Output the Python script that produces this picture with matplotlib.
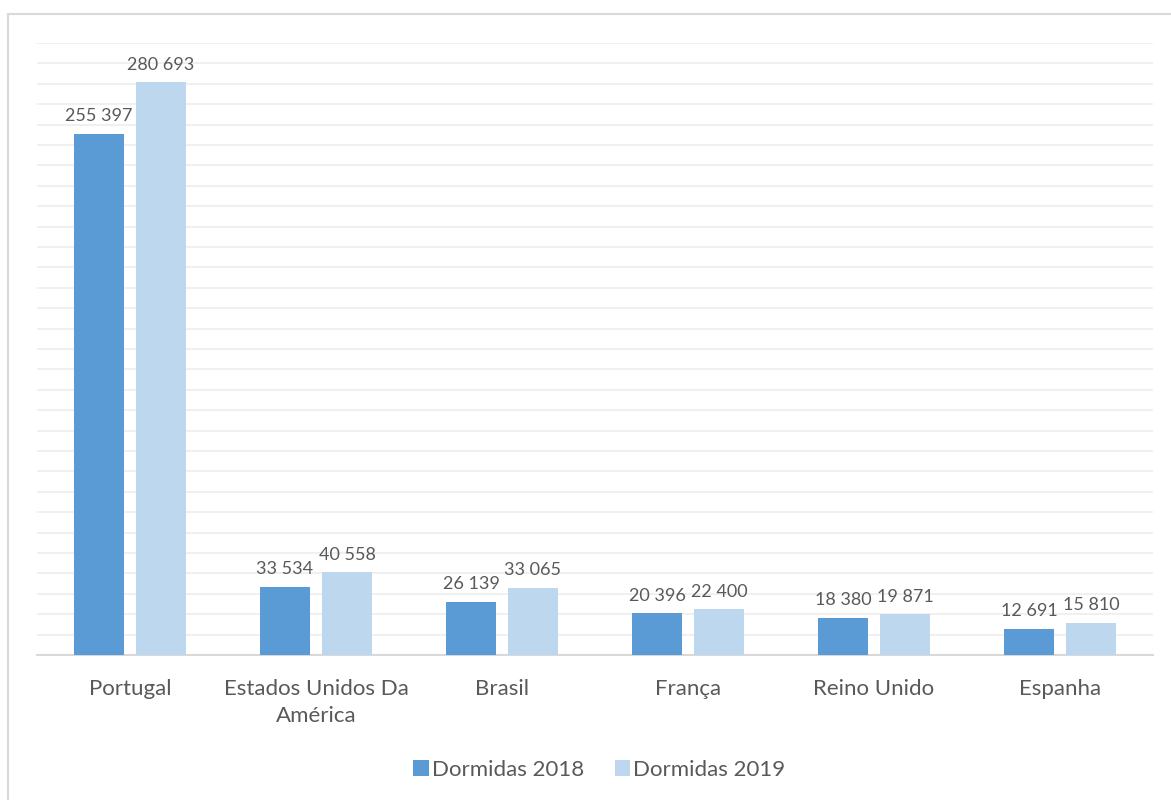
import matplotlib.pyplot as plt
import numpy as np
from matplotlib.lines import Line2D

countries = ["Portugal", "Estados Unidos Da\nAmérica", "Brasil", "França", "Reino Unido", "Espanha"]
dormidas_2018 = [255397, 33534, 26139, 20396, 18380, 12691]
dormidas_2019 = [280693, 40558, 33065, 22400, 19871, 15810]

c2018 = "#5B9BD5"
c2019 = "#BDD7EE"
txt = "#595959"
plt.rcParams['font.family'] = ['Lato', 'DejaVu Sans']


def fmt(v):
    return f"{v:,}".replace(",", " ")


fig = plt.figure(figsize=(11.71, 8), dpi=100)
# chart frame: only top and left edges visible in the crop
fx, fy = 7.5 / 1171, 1 - 13.5 / 800
fig.add_artist(Line2D([fx, 1], [fy, fy], transform=fig.transFigure, color="#D9D9D9", lw=1.5))
fig.add_artist(Line2D([fx, fx], [0, fy], transform=fig.transFigure, color="#D9D9D9", lw=1.5))

ax = fig.add_axes([37 / 1171, 1 - 655 / 800, (1153 - 37) / 1171, (655 - 43) / 800])

x = np.arange(len(countries))
w = 50 / 186
gap = 12 / 186
b1 = ax.bar(x - (w + gap) / 2, dormidas_2018, w, color=c2018, label="Dormidas 2018", zorder=3)
b2 = ax.bar(x + (w + gap) / 2, dormidas_2019, w, color=c2019, label="Dormidas 2019", zorder=3)

for bars, vals in ((b1, dormidas_2018), (b2, dormidas_2019)):
    for rect, v in zip(bars, vals):
        ax.annotate(fmt(v), (rect.get_x() + rect.get_width() / 2, v), xytext=(0, 7),
                    textcoords="offset points", ha="center", va="bottom",
                    fontsize=13, color=txt)

ax.set_xlim(-0.5, len(countries) - 0.5)
ax.set_ylim(0, 300000)
ax.set_yticks(np.arange(0, 300001, 10000))
ax.yaxis.grid(True, color="#EDEDED", linewidth=1.2, zorder=0)
ax.tick_params(axis="y", left=False, labelleft=False)
ax.set_xticks(x)
ax.set_xticklabels(countries, fontsize=16, color=txt, linespacing=1.45)
ax.tick_params(axis="x", length=0, pad=17)
for s in ("top", "right", "left"):
    ax.spines[s].set_visible(False)
ax.spines["bottom"].set_color("#D9D9D9")
ax.spines["bottom"].set_linewidth(1.5)

fig.legend(handles=[b1, b2], loc="center", bbox_to_anchor=(599.5 / 1171, 1 - 770 / 800), ncol=2,
           frameon=False, fontsize=16, labelcolor=txt, handlelength=0.7, handleheight=0.7,
           handletextpad=0.15, columnspacing=1.35)

fig.savefig("out.png", dpi=100)
